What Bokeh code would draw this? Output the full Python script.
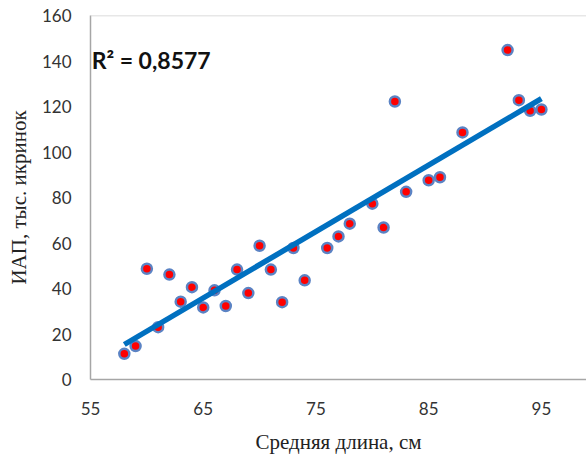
import numpy as np
from bokeh.plotting import figure
from bokeh.models import FixedTicker, Span, Label, Range1d
from bokeh.embed import file_html
from bokeh.resources import INLINE

# Data
length_cm = [58, 59, 60, 61, 62, 63, 64, 65, 66, 67, 68, 69, 70, 71, 72, 73, 74,
             76, 77, 78, 80, 81, 82, 83, 85, 86, 88, 92, 93, 94, 95]
eggs_thousand = [11.3, 14.7, 48.7, 23.0, 46.1, 34.2, 40.6, 31.7, 39.2, 32.3, 48.3,
                 38.0, 58.8, 48.3, 34.0, 57.8, 43.6, 57.8, 62.9, 68.5, 77.3, 66.8,
                 122.2, 82.5, 87.6, 88.9, 108.6, 144.8, 122.8, 118.1, 118.7]
x_ticks = [55, 65, 75, 85, 95]
y_ticks = [0, 20, 40, 60, 80, 100, 120, 140, 160]
r2_text = "R² = 0,8577"
x_title = "Средняя длина, см"
y_title = "ИАП, тыс. икринок"

# Linear trend
slope, intercept = np.polyfit(length_cm, eggs_thousand, 1)
trend_x = [min(length_cm), max(length_cm)]
trend_y = [slope * v + intercept for v in trend_x]

p = figure(width=586, height=456, output_backend="svg", toolbar_location=None,
           x_range=Range1d(55, 99.0), y_range=Range1d(0, 160))
p.min_border_left = 90
p.min_border_right = 0
p.min_border_top = 15
p.min_border_bottom = 77
p.outline_line_color = None
p.background_fill_color = "white"
p.border_fill_color = "white"
p.xgrid.visible = False
p.ygrid.visible = False

tick_font = "Lato"
for ax in (p.xaxis[0], p.yaxis[0]):
    ax.major_tick_line_color = None
    ax.minor_tick_line_color = None
    ax.major_tick_out = 0
    ax.major_tick_in = 0
    ax.minor_tick_out = 0
    ax.axis_line_color = "#A6A6A6"
    ax.axis_line_width = 1.5
    ax.major_label_text_font = tick_font
    ax.major_label_text_font_size = "17px"
    ax.major_label_text_color = "#333333"
    ax.axis_label_text_font = "Liberation Serif"
    ax.axis_label_text_font_size = "21px"
    ax.axis_label_text_font_style = "normal"
    ax.axis_label_text_color = "#222222"

p.xaxis.ticker = FixedTicker(ticks=x_ticks)
p.yaxis.ticker = FixedTicker(ticks=y_ticks)
p.xaxis.major_label_standoff = 22
p.yaxis.major_label_standoff = 19
p.xaxis.axis_label = x_title
p.yaxis.axis_label = y_title
p.xaxis.axis_label_standoff = 12
p.yaxis.axis_label_standoff = 8

# top border of plot area
p.add_layout(Span(location=160, dimension="width", line_color="#D0D0D0", line_width=1.5))

p.scatter(length_cm, eggs_thousand, marker="circle", size=10, fill_color="#FF0000",
          line_color="#5B83C4", line_width=2.5)
p.line(trend_x, trend_y, line_color="#0070C0", line_width=5.5)

p.add_layout(Label(x=55.1, y=140.4, text=r2_text, text_font="Lato", text_font_size="23px",
                   text_font_style="bold", text_color="#111111", text_baseline="alphabetic"))

open("out.html", "w").write(file_html(p, INLINE))
